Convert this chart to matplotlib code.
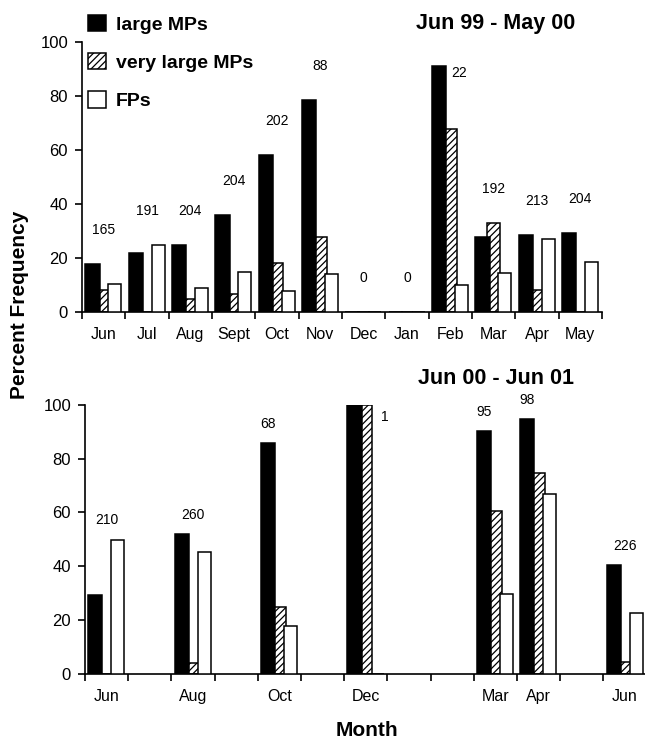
import numpy as np
import matplotlib
matplotlib.use('Agg')
import matplotlib.pyplot as plt

plt.rcParams['font.family'] = ['Liberation Sans', 'DejaVu Sans']
plt.rcParams['hatch.linewidth'] = 0.9

# Jun 99 - May 00
top_months = ['Jun', 'Jul', 'Aug', 'Sept', 'Oct', 'Nov', 'Dec', 'Jan', 'Feb', 'Mar', 'Apr', 'May']
top_large = [17.8, 21.8, 24.8, 36, 58, 78.4, 0, 0, 91, 27.6, 28.5, 29.2]
top_vlarge = [8, 0, 4.7, 6.7, 18.2, 27.6, 0, 0, 67.7, 32.9, 8, 0]
top_fp = [10.4, 24.8, 9, 14.7, 7.7, 14.1, 0, 0, 10, 14.4, 27, 18.6]
top_n = [165, 191, 204, 204, 202, 88, 0, 0, 22, 192, 213, 204]

# Jun 00 - Jun 01 (months not sampled are nan)
nan = np.nan
bot_months = ['Jun', 'Jul', 'Aug', 'Sept', 'Oct', 'Nov', 'Dec', 'Jan', 'Feb', 'Mar', 'Apr', 'May', 'Jun']
bot_large = [29.3, nan, 52, nan, 86, nan, 100, nan, nan, 90.3, 94.8, nan, 40.4]
bot_vlarge = [0, nan, 4, nan, 24.9, nan, 100, nan, nan, 60.5, 74.8, nan, 4.4]
bot_fp = [49.9, nan, 45.1, nan, 17.8, nan, 0, nan, nan, 29.7, 67, nan, 22.4]
bot_n = [210, None, 260, None, 68, None, 1, None, None, 95, 98, None, 226]

series_names = ['large MPs', 'very large MPs', 'FPs']

fig = plt.figure(figsize=(6.45, 7.4), dpi=100)
ax1 = fig.add_axes([82/645, 1-312/740, 520/645, 270/740])
ax2 = fig.add_axes([85/645, 1-673.5/740, 560/645, 268.5/740])

off = 0.26


def draw_panel(ax, months, large, vlarge, fp, n, nslots, label_gap, bottom_panel):
    x = np.arange(len(months)) + 0.5
    h_v = ax.bar(x, vlarge, width=0.29, color='white', edgecolor='black',
                 hatch='/////', linewidth=1.1, zorder=2)
    h_f = ax.bar(x + off, fp, width=0.30, color='white', edgecolor='black',
                 linewidth=1.1, zorder=3)
    h_l = ax.bar(x - off, large, width=0.33, color='black', edgecolor='black',
                 linewidth=1.1, zorder=4)
    for i, c in enumerate(n):
        if c is None:
            continue
        lg, vl, f = large[i], vlarge[i], fp[i]
        top = max(lg, vl, f)
        if lg > 88 and f < 15:
            # small samples: count written beside the top of the black bar
            if vl >= lg - 10:
                ax.text(x[i] + 0.35, lg - 2, str(c), ha='left', va='top', fontsize=10)
            else:
                ax.text(x[i] + 0.03, lg, str(c), ha='left', va='top', fontsize=10)
        else:
            tx = x[i]
            if bottom_panel and lg >= 80:
                tx = x[i] - off
            ax.text(tx, top + label_gap, str(c), ha='center', va='bottom', fontsize=10)

    ax.set_ylim(0, 100)
    ax.set_xlim(0, nslots)
    ax.set_yticks(np.arange(0, 101, 20))
    if bottom_panel:
        ax.set_xticks(np.arange(0, len(months)))
        labels = [m if c is not None else '' for m, c in zip(months, n)]
    else:
        ax.set_xticks(np.arange(0, len(months) + 1))
        labels = months
    ax.set_xticklabels([])
    ax.set_xticks(x, minor=True)
    ax.set_xticklabels(labels, minor=True, fontsize=11.5)
    ax.tick_params(axis='x', which='major', direction='out', length=5, width=1.2)
    ax.tick_params(axis='x', which='minor', length=0, pad=11)
    ax.tick_params(axis='y', direction='out', length=5, width=1.2, labelsize=12, pad=5)
    for s in ['top', 'right']:
        ax.spines[s].set_visible(False)
    for s in ['left', 'bottom']:
        ax.spines[s].set_linewidth(1.2)
    return h_l, h_v, h_f


handles = draw_panel(ax1, top_months, top_large, top_vlarge, top_fp, top_n, 12, 10, False)
draw_panel(ax2, bot_months, bot_large, bot_vlarge, bot_fp, bot_n, 560/43.2, 4.5, True)

fig.legend(handles, series_names, loc='upper left', bbox_to_anchor=(88/645, 1-15/740),
           frameon=False, prop={'weight': 'bold', 'size': 14}, handlelength=0.95,
           handleheight=0.9, handletextpad=0.5, labelspacing=1.0, borderpad=0,
           borderaxespad=0)

fig.text(496/645, 1-24/740, 'Jun 99 - May 00', ha='center', va='center',
         fontsize=15.5, fontweight='bold')
fig.text(496/645, 1-379/740, 'Jun 00 - Jun 01', ha='center', va='center',
         fontsize=15.5, fontweight='bold')
fig.text(20/645, 1-305/740, 'Percent Frequency', rotation=90, ha='center', va='center',
         fontsize=15, fontweight='bold')
fig.text(367/645, 1-730/740, 'Month', ha='center', va='center',
         fontsize=15, fontweight='bold')

fig.savefig('out.png', dpi=100)
